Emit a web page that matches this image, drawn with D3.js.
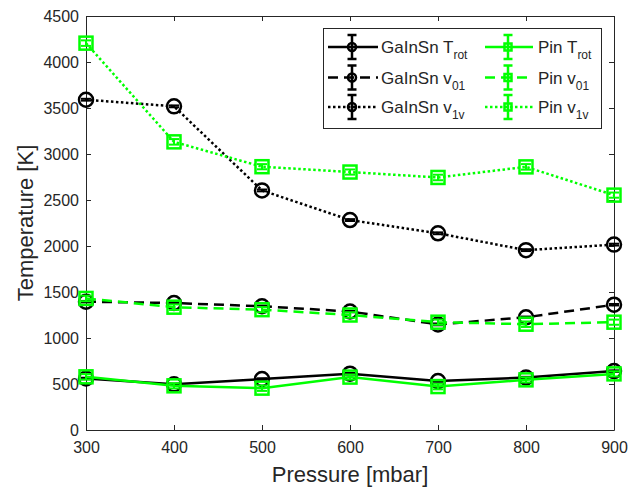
<!DOCTYPE html>
<html>
<head>
<meta charset="utf-8">
<script src="https://cdn.jsdelivr.net/npm/d3@7"></script>
<style>
  html, body { margin: 0; padding: 0; background: #fff; }
  svg { display: block; }
  text { font-family: "Liberation Sans", Arial, Helvetica, sans-serif; fill: #262626; }
</style>
</head>
<body>
<svg id="chart" width="629" height="492"></svg>
<script>
// Pressure settings [mbar]
const pressure = [300, 400, 500, 600, 700, 800, 900];

// GaInSn electrode temperatures [K]
const gainsnTrot = [560, 496, 554, 612, 532, 570, 640];
const gainsnV01  = [1395, 1380, 1345, 1288, 1148, 1225, 1362];
const gainsnV1v  = [3590, 3518, 2604, 2282, 2138, 1955, 2015];

// Pin electrode temperatures [K]
const pinTrot = [578, 480, 455, 575, 472, 545, 610];
const pinV01  = [1430, 1335, 1308, 1250, 1172, 1150, 1172];
const pinV1v  = [4205, 3132, 2862, 2804, 2745, 2860, 2553];

// Uncertainty (± K)
const gainsnTrotErr = [8, 8, 8, 8, 8, 8, 8];
const gainsnV01Err  = [8, 10, 8, 8, 10, 8, 8];
const gainsnV1vErr  = [10, 10, 10, 10, 10, 10, 10];
const pinTrotErr = [30, 28, 30, 28, 30, 28, 28];
const pinV01Err  = [30, 30, 28, 30, 28, 30, 28];
const pinV1vErr  = [30, 30, 28, 28, 30, 30, 28];

// Axis ticks
const xTicks = [300, 400, 500, 600, 700, 800, 900];
const yTicks = [0, 500, 1000, 1500, 2000, 2500, 3000, 3500, 4000, 4500];

const BLACK = "#000000", GREEN = "#00ff00";
const DASH = { solid: null, dashed: "10,6", dotted: "2.5,2.5" };
const LW = 2.5;

const series = [
  { name: "GaInSn", sub: "rot", base: "T", y: gainsnTrot, err: gainsnTrotErr, color: BLACK, style: "solid",  marker: "circle" },
  { name: "GaInSn", sub: "01",  base: "v", y: gainsnV01,  err: gainsnV01Err,  color: BLACK, style: "dashed", marker: "circle" },
  { name: "GaInSn", sub: "1v",  base: "v", y: gainsnV1v,  err: gainsnV1vErr,  color: BLACK, style: "dotted", marker: "circle" },
  { name: "Pin",    sub: "rot", base: "T", y: pinTrot,    err: pinTrotErr,    color: GREEN, style: "solid",  marker: "square" },
  { name: "Pin",    sub: "01",  base: "v", y: pinV01,     err: pinV01Err,     color: GREEN, style: "dashed", marker: "square" },
  { name: "Pin",    sub: "1v",  base: "v", y: pinV1v,     err: pinV1vErr,     color: GREEN, style: "dotted", marker: "square" }
];

const svg = d3.select("#chart");
const plot = { left: 86, right: 614, top: 16, bottom: 430 };

const x = d3.scaleLinear().domain([300, 900]).range([plot.left, plot.right]);
const y = d3.scaleLinear().domain([0, 4500]).range([plot.bottom, plot.top]);

const AXIS = "#262626";
const tickLen = 5;
const fmt = d3.format("d");

// Axes box with inward ticks on all four sides
const axes = svg.append("g");
const xBottom = axes.append("g").attr("transform", `translate(0,${plot.bottom})`)
  .call(d3.axisBottom(x).tickValues(xTicks).tickFormat(fmt).tickSizeInner(-tickLen).tickSizeOuter(0).tickPadding(12));
const xTop = axes.append("g").attr("transform", `translate(0,${plot.top})`)
  .call(d3.axisTop(x).tickValues(xTicks).tickSizeInner(-tickLen).tickSizeOuter(0).tickFormat(""));
const yLeft = axes.append("g").attr("transform", `translate(${plot.left},0)`)
  .call(d3.axisLeft(y).tickValues(yTicks).tickFormat(fmt).tickSizeInner(-tickLen).tickSizeOuter(0).tickPadding(7));
const yRight = axes.append("g").attr("transform", `translate(${plot.right},0)`)
  .call(d3.axisRight(y).tickValues(yTicks).tickSizeInner(-tickLen).tickSizeOuter(0).tickFormat(""));

[xBottom, xTop, yLeft, yRight].forEach(g => {
  g.select(".domain").attr("stroke", AXIS).attr("stroke-width", 1);
  g.selectAll(".tick line").attr("stroke", AXIS).attr("stroke-width", 1);
  g.selectAll(".tick text").attr("fill", AXIS).style("font-size", "16px")
    .style("font-family", '"Liberation Sans", Arial, sans-serif');
});
xBottom.selectAll(".tick text").attr("dy", "0.71em");

// Axis titles
svg.append("text")
  .attr("x", (plot.left + plot.right) / 2).attr("y", 482)
  .attr("text-anchor", "middle").style("font-size", "22px")
  .text("Pressure [mbar]");
svg.append("text")
  .attr("transform", `translate(33,${(plot.top + plot.bottom) / 2}) rotate(-90)`)
  .attr("text-anchor", "middle").style("font-size", "22px")
  .text("Temperature [K]");

// Data layer
const dataG = svg.append("g");
const line = d3.line().x(d => x(d.p)).y(d => y(d.v));
const capHalf = 5;
const circleR = 7;
const squareHalf = 6.5;

function drawMarker(g, m, cx, cy, color, size, sw) {
  if (m === "circle") {
    g.append("circle").attr("cx", cx).attr("cy", cy).attr("r", size)
      .attr("fill", "none").attr("stroke", color).attr("stroke-width", sw);
  } else {
    g.append("rect").attr("x", cx - size).attr("y", cy - size)
      .attr("width", size * 2).attr("height", size * 2)
      .attr("fill", "none").attr("stroke", color).attr("stroke-width", sw);
  }
}

series.forEach(s => {
  const pts = pressure.map((p, i) => ({ p, v: s.y[i], e: s.err[i] }));
  const g = dataG.append("g");
  g.append("path").datum(pts).attr("d", line)
    .attr("fill", "none").attr("stroke", s.color).attr("stroke-width", LW)
    .attr("stroke-dasharray", DASH[s.style]);
  pts.forEach(d => {
    const cx = x(d.p), y0 = y(d.v - d.e), y1 = y(d.v + d.e);
    g.append("line").attr("x1", cx).attr("x2", cx).attr("y1", y0).attr("y2", y1)
      .attr("stroke", s.color).attr("stroke-width", 2);
    [y0, y1].forEach(yy => g.append("line")
      .attr("x1", cx - capHalf).attr("x2", cx + capHalf).attr("y1", yy).attr("y2", yy)
      .attr("stroke", s.color).attr("stroke-width", 2));
    drawMarker(g, s.marker, cx, y(d.v), s.color, s.marker === "circle" ? circleR : squareHalf, LW);
  });
});

// Legend
const legend = svg.append("g");
legend.append("rect").attr("x", 323.5).attr("y", 28.5).attr("width", 278).attr("height", 100)
  .attr("fill", "#fff").attr("stroke", AXIS).attr("stroke-width", 1);

const cols = [{ x0: 328, x1: 378, tx: 381 }, { x0: 485, x1: 533, tx: 538 }];
const rows = [47, 77.5, 107];
series.forEach((s, i) => {
  const c = cols[Math.floor(i / 3)], ry = rows[i % 3];
  const mx = (c.x0 + c.x1) / 2 - 1;
  const lg = legend.append("g");
  lg.append("line").attr("x1", c.x0).attr("x2", c.x1).attr("y1", ry).attr("y2", ry)
    .attr("stroke", s.color).attr("stroke-width", 2.5).attr("stroke-dasharray", DASH[s.style]);
  lg.append("line").attr("x1", mx).attr("x2", mx).attr("y1", ry - 12).attr("y2", ry + 12)
    .attr("stroke", s.color).attr("stroke-width", 2.5);
  [ry - 12, ry + 12].forEach(yy => lg.append("line")
    .attr("x1", mx - 4.5).attr("x2", mx + 4.5).attr("y1", yy).attr("y2", yy)
    .attr("stroke", s.color).attr("stroke-width", 2.5));
  drawMarker(lg, s.marker, mx, ry, s.color, s.marker === "circle" ? 4 : 3.5, 2.5);
  const t = lg.append("text").attr("x", c.tx).attr("y", ry + 6).style("font-size", "17px");
  t.append("tspan").text(`${s.name} ${s.base}`);
  t.append("tspan").attr("dy", 6).style("font-size", "12px").text(s.sub);
});
</script>
</body>
</html>
